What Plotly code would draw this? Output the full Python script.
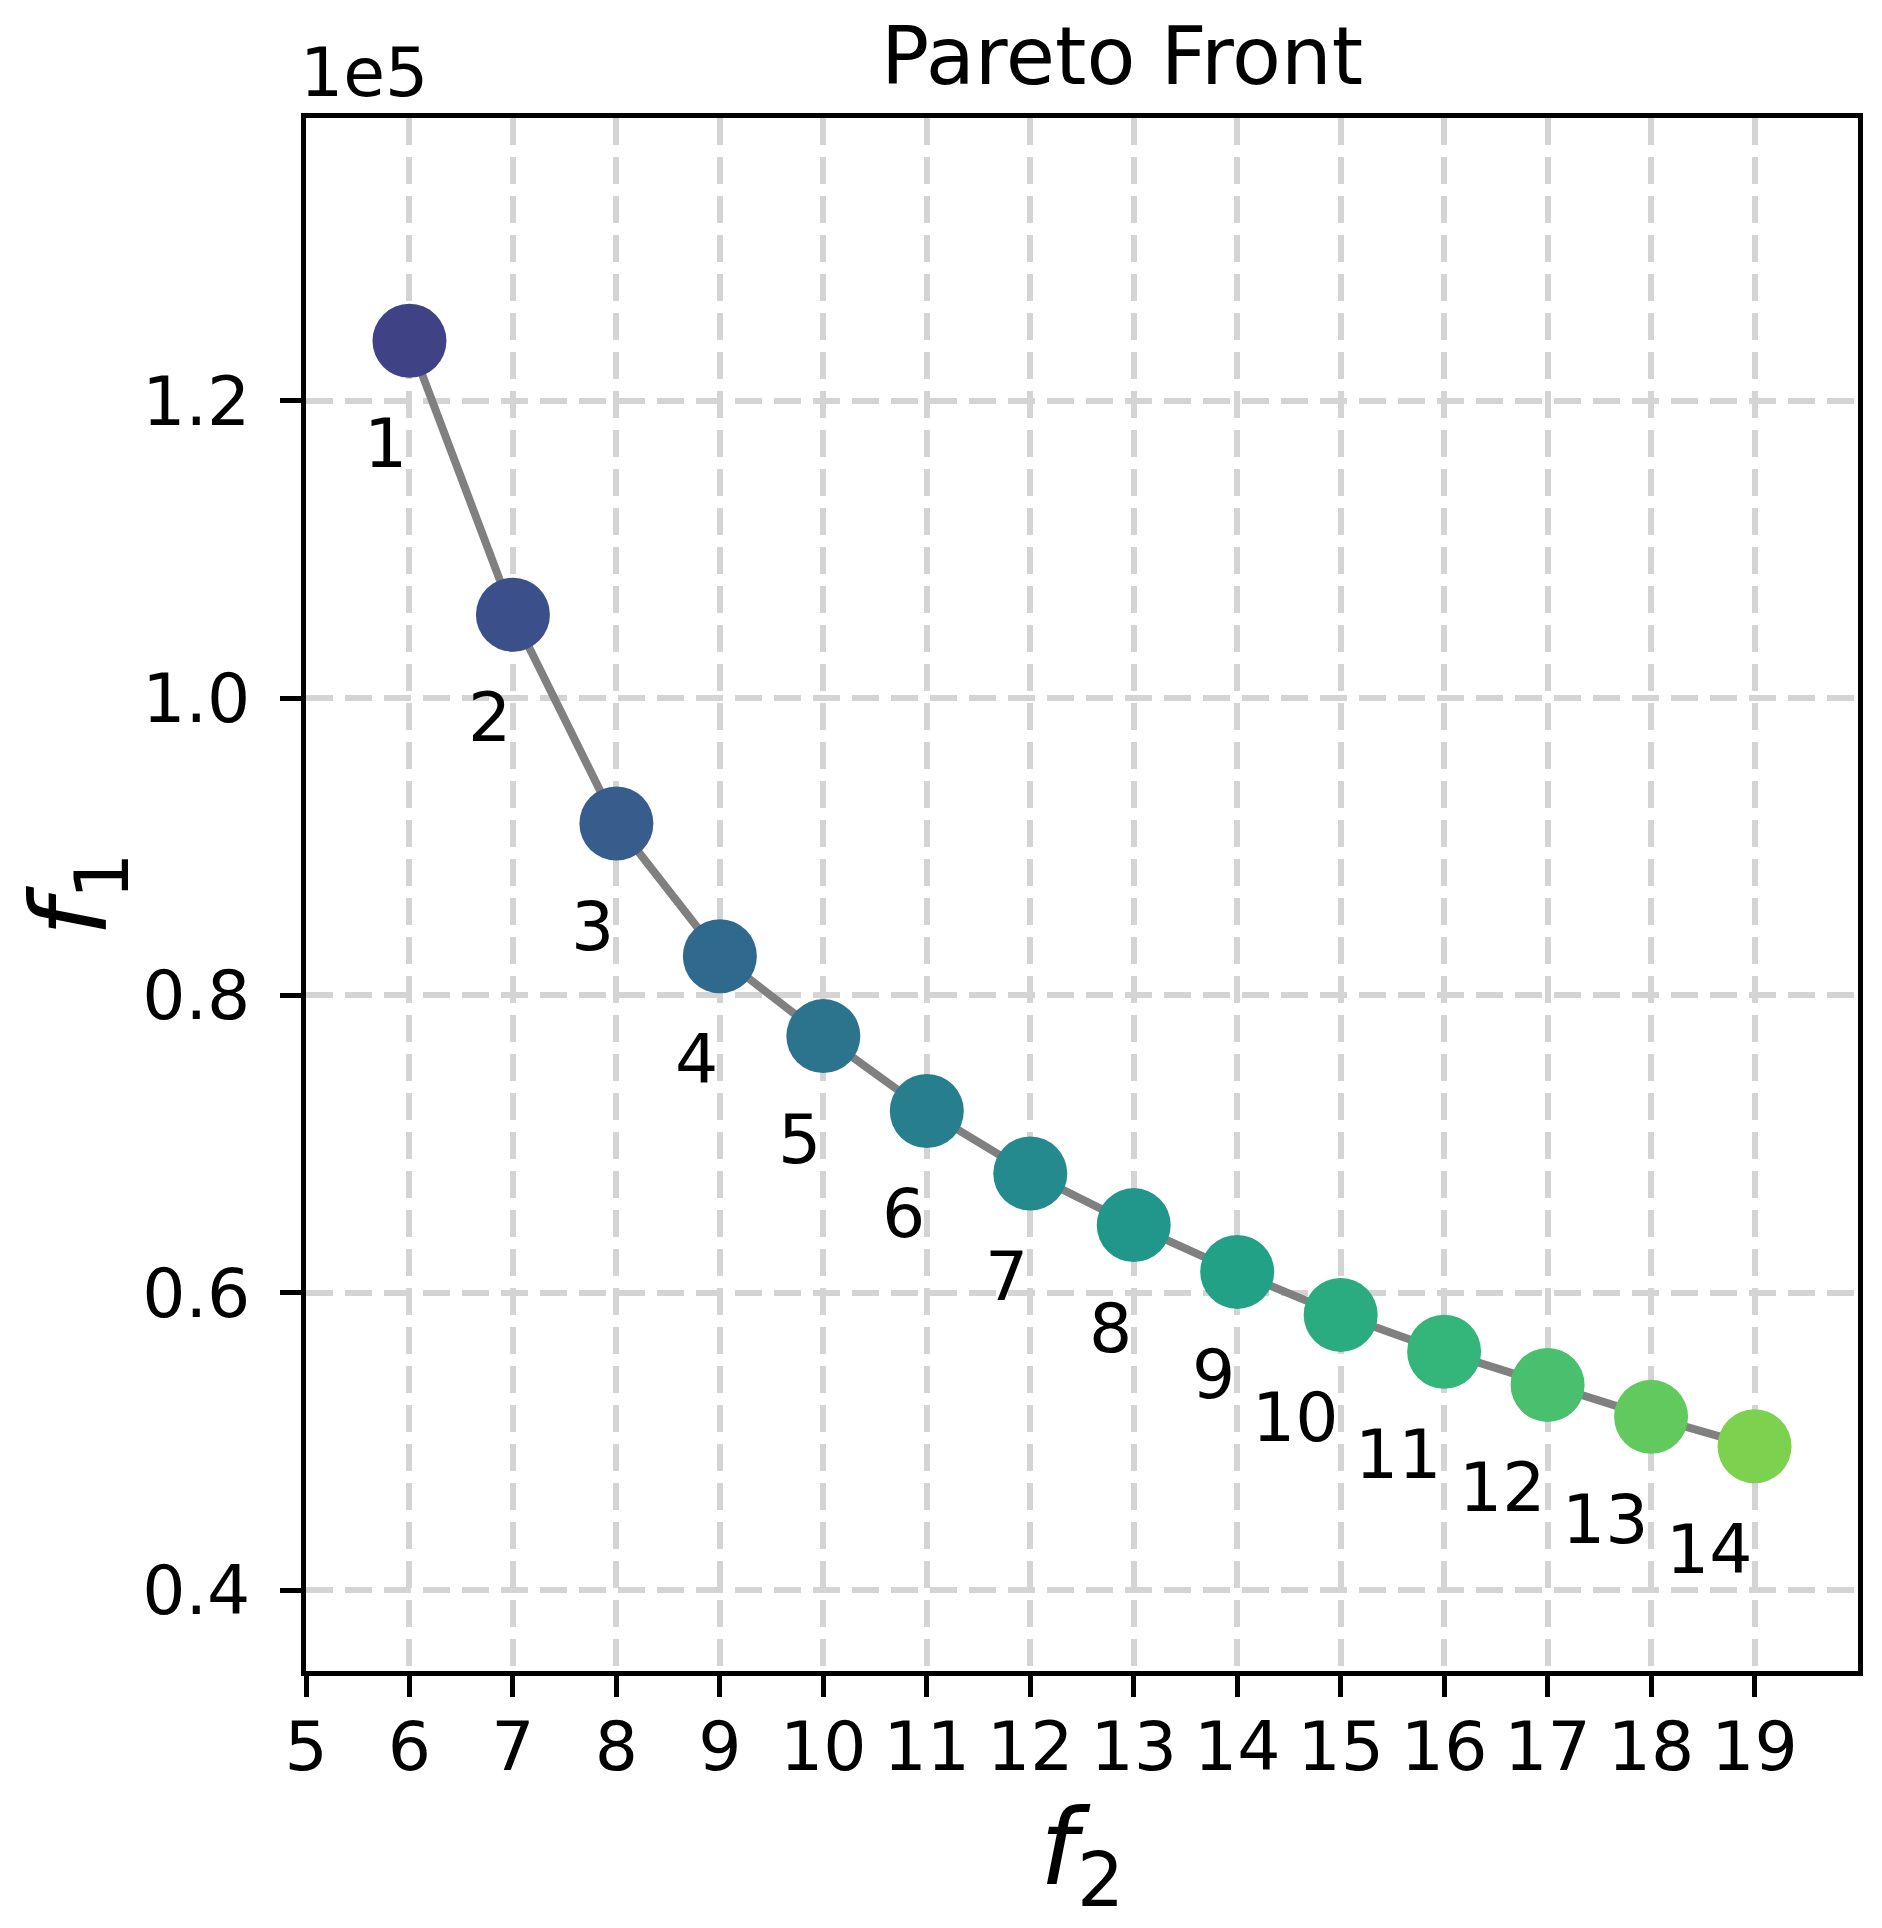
import plotly.graph_objects as go

# Pareto front points (f2 on x, f1 on y)
point_ids = list(range(1, 15))
f2 = [6, 7, 8, 9, 10, 11, 12, 13, 14, 15, 16, 17, 18, 19]
f1 = [124050, 105620, 91570, 82640, 77270, 72230, 68020,
      64550, 61400, 58510, 56030, 53800, 51650, 49670]

x_ticks = list(range(5, 20))
y_ticks_scaled = [0.4, 0.6, 0.8, 1.0, 1.2]
y_scale = 1e5

# page body has an 8px margin, so the figure is a bit smaller than the window
W, H = 1874, 1920
FONT = "DejaVu Sans"

# viridis sampled from 0.2 to 0.8 across the points
n = len(point_ids)
span = (n - 1) / 0.6
cmin = point_ids[0] - 0.2 * span
cmax = cmin + span

fig = go.Figure()
fig.add_trace(go.Scatter(
    x=f2, y=f1, mode="lines+markers",
    line=dict(color="#808080", width=8),
    marker=dict(size=74, color=point_ids, colorscale="Viridis",
                cmin=cmin, cmax=cmax, line=dict(width=0), opacity=1),
    showlegend=False, hoverinfo="skip",
))

for pid, x, y in zip(point_ids, f2, f1):
    fig.add_annotation(x=x, y=y, text=str(pid), showarrow=False,
                       xanchor="right", yanchor="middle",
                       xshift=0, yshift=-103,
                       font=dict(family=FONT, size=68, color="black"))

# offset text like matplotlib's scientific notation
fig.add_annotation(xref="paper", yref="paper", x=0, y=1, text="1e5",
                   showarrow=False, xanchor="left", yanchor="bottom",
                   xshift=-8, yshift=4,
                   font=dict(family=FONT, size=68, color="black"))

axis_common = dict(
    showline=True, linecolor="black", linewidth=5, mirror=True,
    ticks="outside", ticklen=21, tickwidth=5, tickcolor="black",
    showgrid=True, gridcolor="#d4d4d4", gridwidth=6, griddash="27px,12px",
    zeroline=False,
    tickfont=dict(family=FONT, size=68, color="black"),
)

fig.update_xaxes(
    range=[5, 20], tickvals=x_ticks, ticktext=[str(v) for v in x_ticks],
    title=dict(text="<i>f</i><sub>2</sub>", standoff=20,
               font=dict(family=FONT, size=106, color="black")),
    ticklabelstandoff=-9,
    **axis_common,
)
fig.update_yaxes(
    range=[34550, 139040],
    tickvals=[v * y_scale for v in y_ticks_scaled],
    ticktext=[f"{v:.1f}" for v in y_ticks_scaled],
    title=dict(text="<i>f</i><sub>1</sub>", standoff=36,
               font=dict(family=FONT, size=106, color="black")),
    ticklabelstandoff=16,
    **axis_common,
)

fig.update_layout(
    width=W, height=H,
    margin=dict(l=298, r=24, t=110, b=257),
    plot_bgcolor="white", paper_bgcolor="white",
    title=dict(text="Pareto Front", x=0.5258, xref="paper", xanchor="center",
               y=1 - 48 / H, yref="container", yanchor="middle",
               font=dict(family=FONT, size=80, color="black")),
    font=dict(family=FONT),
)

fig.write_html("out.html")
